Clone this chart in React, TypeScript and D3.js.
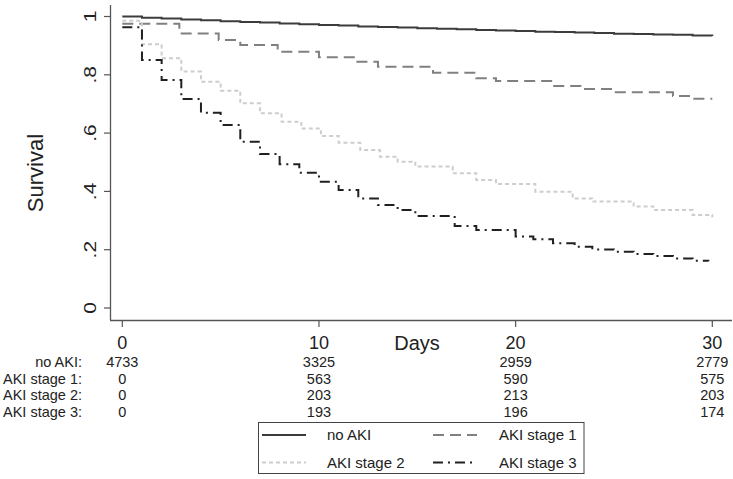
import * as d3 from "d3";

// survival curves: step times (days) and survival after each step
const noAkiDays = [0, 1, 2, 3, 4, 5, 6, 7, 8, 9, 10, 11, 12, 13, 14, 15, 16, 17, 18, 19, 20, 21, 22, 23, 24, 25, 26, 27, 28, 29, 30];
const noAkiSurv = [1.0, 0.996, 0.993, 0.99, 0.987, 0.984, 0.981, 0.979, 0.976, 0.973, 0.971, 0.969, 0.966, 0.964, 0.962, 0.96, 0.958, 0.956, 0.954, 0.952, 0.95, 0.948, 0.947, 0.945, 0.943, 0.941, 0.94, 0.938, 0.937, 0.935, 0.933];

const stage1Days = [0, 2.9, 4.9, 6, 7.9, 10, 11.9, 13, 15.8, 18, 19, 21.9, 23.3, 25, 28, 29, 30];
const stage1Surv = [0.975, 0.942, 0.919, 0.902, 0.879, 0.86, 0.845, 0.828, 0.807, 0.788, 0.779, 0.762, 0.751, 0.74, 0.727, 0.718, 0.718];

const stage2Days = [0, 1, 2, 3, 4, 5, 6, 7, 8.1, 9.1, 10.1, 11, 12.1, 13.1, 14, 14.9, 16.8, 18, 19, 21, 22.9, 23.9, 26, 27, 29, 30];
const stage2Surv = [0.985, 0.905, 0.857, 0.811, 0.776, 0.745, 0.702, 0.668, 0.639, 0.616, 0.59, 0.567, 0.542, 0.519, 0.502, 0.485, 0.462, 0.439, 0.425, 0.399, 0.376, 0.365, 0.348, 0.336, 0.319, 0.311];

const stage3Days = [0, 1, 2, 3, 4, 5, 6, 7, 8, 9, 10, 11, 12, 13, 14, 14.9, 16.9, 18, 20, 20.9, 21.9, 23, 23.9, 25, 26, 27, 28, 29, 29.8];
const stage3Surv = [0.963, 0.851, 0.782, 0.717, 0.67, 0.628, 0.57, 0.528, 0.493, 0.464, 0.433, 0.405, 0.376, 0.353, 0.336, 0.316, 0.281, 0.268, 0.245, 0.236, 0.222, 0.21, 0.201, 0.193, 0.185, 0.178, 0.17, 0.162, 0.16];

const seriesNames = ["no AKI", "AKI stage 1", "AKI stage 2", "AKI stage 3"];
const riskDays = [0, 10, 20, 30];
const riskNoAki = [4733, 3325, 2959, 2779];
const riskStage1 = [0, 563, 590, 575];
const riskStage2 = [0, 203, 213, 203];
const riskStage3 = [0, 193, 196, 174];
const yTicks = [0, 0.2, 0.4, 0.6, 0.8, 1];

const W = 733;
const H = 479;
const FONT = "'Liberation Sans', Arial, sans-serif";

const styles = [
  { color: "#3c3c3c", dash: "none" },
  { color: "#808080", dash: "11,6" },
  { color: "#cdcdcd", dash: "4,3" },
  { color: "#202020", dash: "10,5,2,5" },
];

export default function App() {
  const x = d3.scaleLinear().domain([0, 30]).range([122.3, 712.3]);
  const y = d3.scaleLinear().domain([0, 1]).range([308, 16.5]);

  const curves = [
    d3.zip(noAkiDays, noAkiSurv),
    d3.zip(stage1Days, stage1Surv),
    d3.zip(stage2Days, stage2Surv),
    d3.zip(stage3Days, stage3Surv),
  ];
  const line = d3
    .line<number[]>()
    .x((d) => x(d[0]))
    .y((d) => y(d[1]))
    .curve(d3.curveStepAfter);

  const riskRows = [riskNoAki, riskStage1, riskStage2, riskStage3];
  // rows sit tight, as in the original table
  const rowY = [361.5, 379, 395, 411.5];

  const legendPos = [
    { lx: 262, tx: 327, cy: 435 },
    { lx: 433, tx: 499, cy: 435 },
    { lx: 262, tx: 327, cy: 462.5 },
    { lx: 433, tx: 499, cy: 462.5 },
  ];

  const fmt = (v: number) => (v === 0 ? "0" : v === 1 ? "1" : d3.format(".1f")(v).replace(/^0/, ""));

  return (
    <svg
      width={W}
      height={H}
      style={{ position: "absolute", left: 0, top: 0, background: "#fff" }}
      fontFamily={FONT}
    >
      <rect width={W} height={H} fill="#fff" />
      {/* axes */}
      <line x1={110.5} x2={110.5} y1={5} y2={320} stroke="#555" strokeWidth={1.3} />
      <line x1={110} x2={732} y1={320.5} y2={320.5} stroke="#555" strokeWidth={1.3} />
      {yTicks.map((t) => (
        <g key={t}>
          <line x1={104} x2={110.5} y1={y(t)} y2={y(t)} stroke="#555" strokeWidth={1.2} />
          <text
            transform={`translate(95.5,${y(t)}) rotate(-90) scale(1,0.78)`}
            textAnchor="middle"
            fontSize={21}
            fill="#222"
          >
            {fmt(t)}
          </text>
        </g>
      ))}
      {riskDays.map((t) => (
        <g key={t}>
          <line x1={x(t)} x2={x(t)} y1={320.5} y2={327} stroke="#555" strokeWidth={1.2} />
          <text x={x(t)} y={348.5} textAnchor="middle" fontSize={18} fill="#222">
            {t}
          </text>
        </g>
      ))}
      <text x={417} y={350} textAnchor="middle" fontSize={20} fill="#222">
        Days
      </text>
      <text transform="translate(43,173) rotate(-90)" textAnchor="middle" fontSize={22} fill="#222">
        Survival
      </text>

      {/* curves */}
      {curves.map((c, i) => (
        <path
          key={i}
          d={line(c) || ""}
          fill="none"
          stroke={styles[i].color}
          strokeWidth={2}
          strokeDasharray={styles[i].dash}
        />
      ))}

      {/* number at risk */}
      {riskRows.map((row, r) => (
        <g key={r}>
          <text x={82} y={rowY[r] + 5.2} textAnchor="end" fontSize={14.5} fill="#222">
            {seriesNames[r] + ":"}
          </text>
          {row.map((v, j) => (
            <text key={j} x={x(riskDays[j])} y={rowY[r] + 5.2} textAnchor="middle" fontSize={14.5} fill="#222">
              {v}
            </text>
          ))}
        </g>
      ))}

      {/* legend */}
      <rect x={258.5} y={422.5} width={325.5} height={51} fill="#fff" stroke="#444" strokeWidth={1} />
      {seriesNames.map((name, i) => (
        <g key={name}>
          <line
            x1={legendPos[i].lx}
            x2={legendPos[i].lx + 44}
            y1={legendPos[i].cy}
            y2={legendPos[i].cy}
            stroke={styles[i].color}
            strokeWidth={2}
            strokeDasharray={styles[i].dash}
          />
          <text x={legendPos[i].tx} y={legendPos[i].cy + 5.4} fontSize={15} fill="#222">
            {name}
          </text>
        </g>
      ))}
    </svg>
  );
}
